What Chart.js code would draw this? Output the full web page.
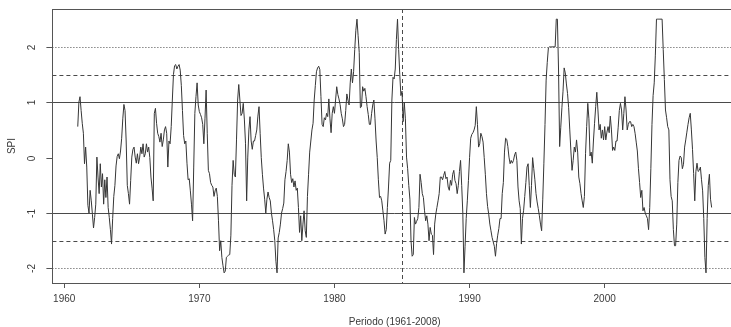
<!DOCTYPE html>
<html>
<head>
<meta charset="utf-8">
<script src="https://cdn.jsdelivr.net/npm/chart.js@4.4.1/dist/chart.umd.min.js"></script>
<style>
html,body{margin:0;padding:0;background:#ffffff;overflow:hidden;}
canvas{display:block;}
</style>
</head>
<body>
<canvas id="c" width="740" height="327"></canvas>
<script>
// ---- data (monthly SPI) ----
const startYear = 1961;
const spi1961_1970 = [
  0.56, 1.0, 1.1, 0.85, 0.62, 0.44, -0.11, 0.19, -0.17, -0.86, -1.0, -0.59,
  -0.78, -1.02, -1.27, -1.08, -0.84, 0.01, -0.35, -0.65, -0.11, -0.53, -0.29, -0.84,
  -0.40, -0.72, -0.35, -0.9, -1.08, -1.3, -1.56, -1.1, -0.7, -0.5, -0.15, 0.02,
  0.07, -0.02, 0.12, 0.35, 0.7, 0.96, 0.85, 0.3, -0.5, -0.65, -0.84, -0.41,
  0.01, 0.15, 0.19, 0.01, -0.1, 0.07, -0.11, 0.01, 0.19, 0.07, 0.25, 0.01,
  0.07, 0.25, 0.1, 0.19, 0.0, -0.35, -0.55, -0.78, 0.80, 0.89, 0.62, 0.44,
  0.38, 0.28, 0.44, 0.2, 0.32, 0.5, 0.56, 0.44, -0.17, 0.3, 0.25, 0.56,
  1.04, 1.5, 1.66, 1.68, 1.6, 1.65, 1.68, 1.58, 1.3, 0.85, 0.4, 0.25,
  0.3, -0.1, -0.4, -0.38, -0.6, -0.84, -1.14, -0.17, 0.8, 1.10, 1.35, 0.95,
  0.83, 0.78, 0.72, 0.6, 0.25, 0.7, 1.22, 0.44, -0.23, -0.29, -0.45, -0.5
];
const spi1971_1980 = [
  -0.53, -0.7, -0.6, -0.55, -0.7, -1.14, -1.68, -1.5, -1.8, -1.95, -2.08, -2.05,
  -1.8, -1.78, -1.76, -1.75, -1.4, -0.5, -0.05, -0.3, -0.35, 0.32, 1.04, 1.32,
  1.04, 0.76, 0.8, 0.98, 0.68, 0.25, -0.78, 0.01, 0.5, 0.74, 0.3, 0.15,
  0.3, 0.3, 0.4, 0.5, 0.75, 0.92, 0.44, 0.0, -0.3, -0.55, -0.75, -1.0,
  -0.75, -0.62, -0.72, -0.78, -1.0, -1.14, -1.3, -1.5, -1.87, -2.08, -1.45, -1.35,
  -1.2, -1.0, -0.92, -0.82, -0.4, -0.25, -0.05, 0.25, 0.1, -0.3, -0.45, -0.38,
  -0.53, -0.42, -0.59, -0.55, -0.9, -1.35, -1.05, -1.5, -1.2, -0.96, -1.32, -1.44,
  -0.7, -0.3, 0.1, 0.3, 0.5, 0.62, 1.04, 1.3, 1.55, 1.62, 1.65, 1.59,
  1.1, 0.6, 0.56, 0.72, 0.68, 0.8, 0.74, 1.06, 0.7, 0.45, 0.8, 0.92,
  0.8, 1.04, 1.28, 1.14, 1.06, 0.96, 0.8, 0.7, 0.56, 0.6, 0.85, 1.15
];
const spi1981_1990 = [
  1.04, 0.95, 1.35, 1.6, 1.35, 1.55, 1.95, 2.3, 2.5, 2.2, 1.9, 0.9,
  0.92, 1.28, 1.2, 1.25, 1.1, 0.92, 0.78, 0.6, 0.6, 0.8, 0.95, 1.04,
  0.7, 0.3, 0.0, -0.4, -0.72, -0.7, -0.78, -0.96, -1.14, -1.38, -1.3, -0.9,
  -0.53, -0.1, -0.05, 1.04, 1.45, 1.42, 1.6, 2.13, 2.5, 1.95, 1.5, 1.12,
  1.2, 0.65, 1.0, 0.7, 0.01, -0.2, -0.5, -0.75, -1.5, -1.78, -1.75, -1.08,
  -1.2, -1.15, -1.1, -0.9, -0.3, -0.45, -0.65, -0.72, -0.96, -1.14, -1.05, -1.2,
  -1.5, -1.26, -1.38, -1.4, -1.75, -1.2, -1.02, -0.9, -0.78, -0.65, -0.35, -0.35,
  -0.4, -0.32, -0.25, -0.38, -0.35, -0.53, -0.59, -0.41, -0.5, -0.3, -0.23, -0.41,
  -0.47, -0.65, -0.5, -0.25, -0.05, -0.5, -1.0, -2.08, -1.6, -1.1, -0.78, -0.41,
  0.0, 0.35, 0.42, 0.45, 0.5, 0.58, 0.92, 0.6, 0.19, 0.25, 0.44, 0.38
];
const spi1991_2000 = [
  0.28, 0.0, -0.3, -0.65, -0.88, -1.02, -1.2, -1.32, -1.44, -1.52, -1.6, -1.78,
  -1.55, -1.4, -1.28, -1.1, -1.1, -0.65, -0.45, 0.1, 0.35, 0.33, 0.2, 0.01,
  -0.11, -0.05, -0.1, -0.05, 0.05, 0.1, -0.05, -0.53, -0.78, -0.92, -1.56, -1.1,
  -0.95, -0.7, -0.45, -0.17, -0.11, -0.5, -0.9, -0.5, 0.0, -0.2, -0.4, -0.65,
  -0.8, -0.92, -1.05, -1.2, -1.32, -0.75, -0.1, 0.6, 1.4, 1.72, 1.98, 2.0,
  2.0, 2.0, 2.0, 2.0, 2.0, 2.5, 2.5, 1.6, 0.2, 0.55, 0.9, 1.2,
  1.62, 1.53, 1.33, 1.16, 0.9, 0.5, 0.12, -0.23, -0.05, 0.19, 0.1, 0.32,
  0.1, -0.35, -0.47, -0.65, -0.78, -0.9, -0.7, 0.07, 0.56, 0.98, 0.7, 0.03,
  0.1, -0.1, 0.3, 0.62, 0.92, 1.18, 0.86, 0.5, 0.6, 0.35, 0.5, 0.32,
  0.56, 0.32, 0.46, 0.56, 0.45, 0.75, 0.5, 0.13, 0.19, 0.13, 0.3, 0.3
];
const spi2001_2007 = [
  0.55, 0.85, 0.98, 0.86, 0.5, 0.8, 1.1, 0.86, 0.5, 0.6, 0.65, 0.65,
  0.56, 0.6, 0.56, 0.44, 0.28, 0.12, -0.2, -0.45, -0.72, -0.59, -0.96, -0.9,
  -1.0, -1.05, -1.1, -1.3, -0.9, -0.2, 0.6, 1.12, 1.35, 1.85, 2.5, 2.5,
  2.5, 2.5, 2.5, 2.5, 1.95, 1.41, 0.86, 0.72, 0.56, 0.5, -0.4, -0.7,
  -0.78, -1.3, -1.59, -1.59, -1.2, -0.45, -0.05, 0.03, 0.0, -0.2, -0.12, 0.19,
  0.32, 0.46, 0.6, 0.72, 0.8, 0.5, 0.15, -0.29, -0.78, -0.25, -0.1, -0.25,
  -0.23, -0.17, -0.4, -0.6, -1.1, -1.8, -2.08, -1.1, -0.5, -0.3, -0.75, -0.9
];
const xTickYears = [1960, 1970, 1980, 1990, 2000];
const yTickValues = [-2, -1, 0, 1, 2];
const solidLevels = [-1, 1];
const dashedLevels = [-1.5, 1.5];
const dottedLevels = [-2, 2];
const markerYears = [1985];
const xTitle = 'Periodo (1961-2008)';
const yTitle = 'SPI';

// ---- build ----
const spi = [].concat(spi1961_1970, spi1971_1980, spi1981_1990, spi1991_2000, spi2001_2007);
const points = spi.map((v, i) => ({ x: startYear + i / 12, y: v }));
const lastX = startYear + (spi.length - 1) / 12;
const xPad = (lastX - startYear) * 0.04;
const yMinData = Math.min(...spi), yMaxData = Math.max(...spi);
const yPad = (yMaxData - yMinData) * 0.04;

const FONT = '"Liberation Sans", Arial, Helvetica, sans-serif';
const TEXT = '#3a3a3a';
const LINE = '#4a4a4a';

const refLines = {
  id: 'refLines',
  beforeDatasetsDraw(chart) {
    const { ctx, chartArea: a, scales: { x, y } } = chart;
    ctx.save();
    ctx.beginPath();
    ctx.rect(a.left, a.top, a.right - a.left, a.bottom - a.top);
    ctx.clip();
    ctx.lineWidth = 1;
    ctx.strokeStyle = LINE;
    const hl = (v, dash) => {
      const py = Math.round(y.getPixelForValue(v)) + 0.5;
      ctx.setLineDash(dash);
      ctx.beginPath(); ctx.moveTo(a.left, py); ctx.lineTo(a.right, py); ctx.stroke();
    };
    solidLevels.forEach(v => hl(v, []));
    dashedLevels.forEach(v => hl(v, [4, 3]));
    dottedLevels.forEach(v => hl(v, [1, 2]));
    markerYears.forEach(yr => {
      const px = Math.round(x.getPixelForValue(yr)) + 0.5;
      ctx.setLineDash([4, 3]);
      ctx.beginPath(); ctx.moveTo(px, a.top); ctx.lineTo(px, a.bottom); ctx.stroke();
    });
    ctx.restore();
  }
};

const frameAndY = {
  id: 'frameAndY',
  afterDraw(chart) {
    const { ctx, chartArea: a, scales: { y } } = chart;
    ctx.save();
    ctx.strokeStyle = '#555';
    ctx.lineWidth = 1;
    ctx.setLineDash([]);
    ctx.strokeRect(Math.round(a.left) + 0.5, Math.round(a.top) + 0.5,
      Math.round(a.right - a.left), Math.round(a.bottom - a.top));
    ctx.fillStyle = TEXT;
    ctx.font = '10px ' + FONT;
    ctx.textAlign = 'center';
    ctx.textBaseline = 'middle';
    yTickValues.forEach(v => {
      const py = Math.round(y.getPixelForValue(v)) + 0.5;
      ctx.beginPath(); ctx.moveTo(a.left - 6, py); ctx.lineTo(a.left, py); ctx.stroke();
      ctx.save();
      ctx.translate(32, py);
      ctx.rotate(-Math.PI / 2);
      ctx.fillText(String(v), 0, 0);
      ctx.restore();
    });
    ctx.save();
    ctx.translate(12, (a.top + a.bottom) / 2);
    ctx.rotate(-Math.PI / 2);
    ctx.fillText(yTitle, 0, 0);
    ctx.restore();
    ctx.restore();
  }
};

new Chart(document.getElementById('c'), {
  type: 'line',
  data: {
    datasets: [{
      data: points,
      borderColor: '#363636',
      borderWidth: 1,
      pointRadius: 0,
      tension: 0,
      fill: false
    }]
  },
  options: {
    responsive: false,
    animation: false,
    events: [],
    layout: { padding: { left: 0, right: 3, top: 9, bottom: 0 } },
    plugins: { legend: { display: false }, tooltip: { enabled: false } },
    scales: {
      x: {
        type: 'linear',
        min: startYear - xPad,
        max: lastX + xPad,
        afterBuildTicks: s => { s.ticks = xTickYears.map(v => ({ value: v })); },
        afterFit: s => { s.height = 44; },
        grid: { drawOnChartArea: false, drawTicks: true, tickLength: 5, color: '#555' },
        border: { display: false },
        ticks: {
          autoSkip: false, maxRotation: 0, minRotation: 0, padding: 5,
          color: TEXT, font: { family: FONT, size: 10 },
          callback: v => String(v)
        },
        title: {
          display: true, text: xTitle, color: TEXT,
          font: { family: FONT, size: 10, lineHeight: 1.0 },
          padding: { top: 0, bottom: 0 }
        }
      },
      y: {
        type: 'linear',
        min: yMinData - yPad,
        max: yMaxData + yPad,
        afterBuildTicks: s => { s.ticks = yTickValues.map(v => ({ value: v })); },
        afterFit: s => { s.width = 52.4; },
        grid: { display: false },
        border: { display: false },
        ticks: { display: false }
      }
    }
  },
  plugins: [refLines, frameAndY]
});
</script>
</body>
</html>
